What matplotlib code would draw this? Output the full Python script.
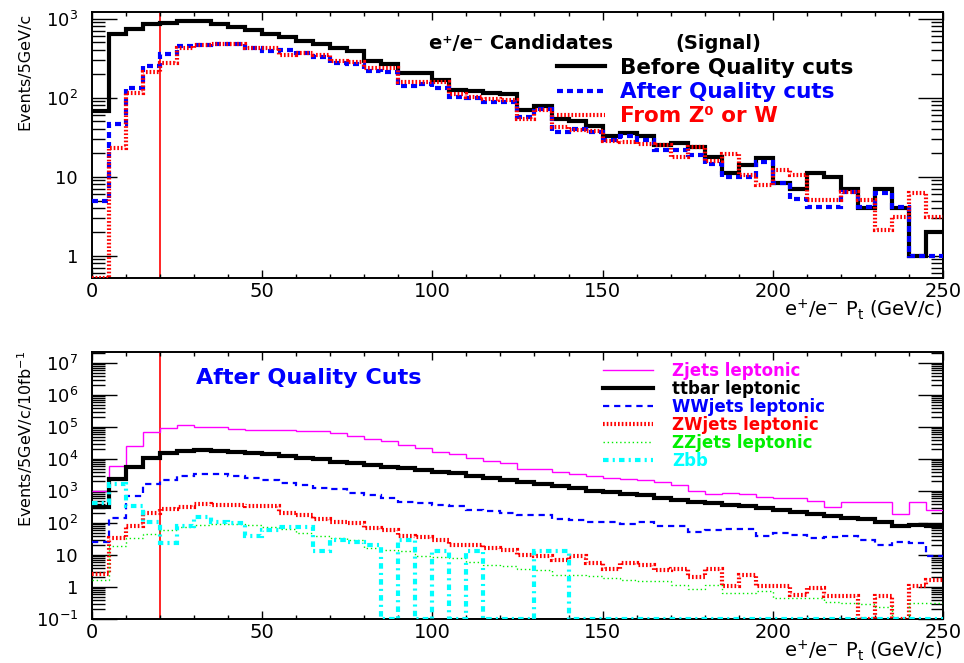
import numpy as np
import matplotlib
matplotlib.use('Agg')
import matplotlib.pyplot as plt
from matplotlib.lines import Line2D
from matplotlib.ticker import FixedLocator, LogLocator, MultipleLocator, FuncFormatter, NullFormatter

plt.rcParams['font.family'] = ['DejaVu Sans']
plt.rcParams['lines.scale_dashes'] = False

# ---- data: 5 GeV/c bins from 0 to 250 ----
edges = np.arange(0, 255, 5)

# top panel: signal e+/e- candidates
before_cuts = [68, 632, 731, 845, 885, 930, 930, 860, 782, 710, 632, 585, 521, 473,
               429, 390, 291, 270, 202, 202, 167, 125, 122, 116, 111, 69, 79, 53, 50, 44,
               33, 36, 33, 25, 27, 24, 18, 11.3, 14.2, 17, 8.3, 7.0, 11, 10, 7.0, 4.0,
               7.0, 4.0, 1.0, 2.0]
after_cuts = [5, 46, 132, 253, 354, 451, 464, 473, 482, 429, 390, 398, 370, 330,
              278, 270, 219, 208, 142, 149, 132, 101, 98, 89, 89, 57, 72, 37, 40, 37,
              29, 33, 29, 21.6, 21.6, 18.6, 14.6, 10, 10, 15.3, 8.3, 5.2, 4.2, 4.2, 6.4,
              4.2, 6.2, 4.2, 1, 1]
from_zw = [0, 23, 113, 214, 278, 429, 460, 473, 482, 429, 429, 348, 370, 345,
           291, 285, 240, 240, 156, 156, 156, 111, 101, 95, 92, 54, 69, 42, 38.5, 37.4,
           28, 27.2, 26.1, 25, 17.8, 23.7, 15.8, 19.3, 10.5, 7.8, 12.1, 10.5, 5.1, 5.1,
           6.4, 5.1, 2.13, 3.1, 6.2, 3.1]

# bottom panel: backgrounds after quality cuts (10 fb^-1)
zjets = [1000, 6100, 25700, 71700, 95000, 113000, 102000, 97000, 89000, 81000, 78000,
         78000, 76000, 75000, 63800, 52600, 41500, 36700, 27500, 22700, 17000, 14100,
         10600, 8700, 7400, 4800, 4800, 4050, 3430, 3030, 2630, 2400, 2230, 1840, 1550,
         965, 795, 890, 795, 671, 597, 597, 500, 313, 436, 468, 436, 189, 436, 258]
ttbar = [310, 2400, 5500, 10800, 15100, 17900, 19200, 18300, 17000, 15100, 14100, 12500,
         11000, 9800, 8300, 7400, 6530, 5800, 5130, 4550, 4050, 3600, 3030, 2630, 2230,
         1880, 1660, 1380, 1220, 1030, 910, 800, 760, 597, 527, 468, 415, 369, 327, 291,
         258, 219, 194, 168, 148, 132, 111, 78, 87, 78]
wwjets = [26, 142, 700, 1650, 2200, 2900, 3500, 3430, 3030, 2510, 2230, 1760, 1500, 1220,
          1140, 850, 760, 597, 468, 415, 369, 327, 258, 229, 212, 180, 180, 135, 126, 111,
          106, 95, 104, 81, 78, 52, 61, 64, 64, 38, 48, 43, 34, 36, 38, 30, 21, 26, 23, 9]
zwjets = [2.5, 34, 78, 203, 271, 310, 380, 369, 369, 344, 327, 212, 180, 135, 104, 99,
          69, 61, 40, 36, 30, 21, 21, 16.4, 14.6, 10.2, 9.0, 7.1, 9.5, 5.6, 3.6, 5.6, 5.0,
          3.5, 3.6, 2.1, 3.6, 1.04, 2.4, 1.04, 1.04, 0.58, 0.93, 0.51, 0.51, 0, 0.51, 0,
          1.04, 1.7]
zzjets = [1.6, 19, 33, 45, 62, 76, 85, 92, 92, 87, 74, 66, 47, 38, 34, 30, 16.4, 13.8,
          12.9, 9.5, 8.6, 8.0, 5.9, 5.0, 4.6, 3.6, 3.5, 2.4, 2.4, 2.2, 1.9, 1.6, 1.5, 1.5,
          1.17, 0.86, 1.17, 0.65, 0.65, 0.73, 0.45, 0.45, 0.45, 0.33, 0.32, 0.30, 0.24, 0,
          0.32, 0.32]
zbb = [420, 1700, 340, 110, 23, 83, 150, 110, 100, 38, 61, 74, 74, 13, 30, 25, 20, 0,
       30, 0, 13, 0, 13, 0, 0, 0, 13, 13, 0, 0, 0, 0, 0, 0, 0, 0, 0, 0, 0, 0, 0, 0, 0, 0,
       0, 0, 0, 0, 0, 0]

pt_cut = 20

top_series = [
    (before_cuts, 'Before Quality cuts', '#000000', 3.0, '-'),
    (after_cuts, 'After Quality cuts', '#0000ff', 3.0, (0, (4.3, 2.9))),
    (from_zw, 'From Z\u2070 or W', '#ff0000', 3.0, (0, (1.2, 1.4))),
]
bottom_series = [
    (zjets, 'Zjets leptonic', '#ff00ff', 1.0, '-'),
    (ttbar, 'ttbar leptonic', '#000000', 3.0, '-'),
    (wwjets, 'WWjets leptonic', '#0000ff', 1.6, (0, (4.5, 3.5))),
    (zwjets, 'ZWjets leptonic', '#ff0000', 3.0, (0, (1.2, 1.5))),
    (zzjets, 'ZZjets leptonic', '#00ee00', 1.0, (0, (1.0, 2.0))),
    (zbb, 'Zbb', '#00ffff', 3.0, (0, (4, 3, 1.5, 3))),
]


def log_label(v, pos):
    n = int(round(np.log10(v)))
    if n == 0:
        return '1'
    if n == 1:
        return '10'
    return '$10^{%d}$' % n


def style_axes(ax, ylim, majors):
    ax.set_yscale('log')
    ax.set_xlim(0, 250)
    ax.set_ylim(*ylim)
    ax.yaxis.set_major_locator(FixedLocator(majors))
    ax.yaxis.set_major_formatter(FuncFormatter(log_label))
    ax.yaxis.set_minor_locator(LogLocator(base=10, subs=np.arange(2, 10), numticks=30))
    ax.yaxis.set_minor_formatter(NullFormatter())
    ax.xaxis.set_major_locator(MultipleLocator(50))
    ax.xaxis.set_minor_locator(MultipleLocator(10))
    ax.tick_params(which='both', direction='in', top=True, right=True, width=1.0)
    ax.tick_params(axis='y', which='major', length=18, labelsize=13, pad=10)
    ax.tick_params(axis='y', which='minor', length=9)
    ax.tick_params(axis='x', which='major', length=6, labelsize=14, pad=3)
    ax.tick_params(axis='x', which='minor', length=3)
    for sp in ax.spines.values():
        sp.set_linewidth(1.4)
    ax.axvline(pt_cut, color='#ff0000', lw=1.2, zorder=1)
    ax.set_xlabel(r'e$^{+}$/e$^{-}$ P$_{\mathrm{t}}$ (GeV/c)', fontsize=14,
                  loc='right', labelpad=-2.5)


def draw(ax, series):
    floor = ax.get_ylim()[0]
    handles = []
    for vals, label, color, lw, ls in series:
        v = np.asarray(vals, dtype=float)
        v = np.where(v > 0, v, floor)
        ax.stairs(v, edges, baseline=None, color=color, lw=lw, linestyle=ls, zorder=3)
        handles.append(Line2D([], [], color=color, lw=lw, linestyle=ls))
    return handles


fig = plt.figure(figsize=(9.64, 6.63), dpi=100)

# ---- top panel ----
ax1 = fig.add_axes([0.0954, 0.5807, 0.8828, 0.4012])
style_axes(ax1, (0.524, 1210), [1, 10, 100, 1000])
h1 = draw(ax1, top_series)
ax1.set_ylabel('Events/5GeV/c', fontsize=11.5, loc='top')
ax1.yaxis.set_label_coords(-0.07, 0.996)
leg1 = ax1.legend(h1, [s[1] for s in top_series], loc='upper left',
                  bbox_to_anchor=(0.546, 0.828), frameon=False, borderpad=0,
                  borderaxespad=0, handlelength=2.23, handletextpad=0.7,
                  labelspacing=0.2, prop={'weight': 'bold', 'size': 15.5})
for t, s in zip(leg1.get_texts(), top_series):
    t.set_color(s[2])
ax1.text(0.396, 0.88, 'e\u207a/e\u207b Candidates', transform=ax1.transAxes,
         fontsize=14, fontweight='bold', va='center', ha='left')
ax1.text(0.685, 0.88, '(Signal)', transform=ax1.transAxes,
         fontsize=14, fontweight='bold', va='center', ha='left')

# ---- bottom panel ----
ax2 = fig.add_axes([0.0954, 0.0664, 0.8828, 0.4027])
style_axes(ax2, (0.1, 2.2e7), [10.0 ** k for k in range(-1, 8)])
h2 = draw(ax2, bottom_series)
ax2.set_ylabel('Events/5GeV/c/10fb$^{-1}$', fontsize=11.5, loc='top')
ax2.yaxis.set_label_coords(-0.067, 1.005)
leg2 = ax2.legend(h2, [s[1] for s in bottom_series], loc='upper left',
                  bbox_to_anchor=(0.6005, 0.963), frameon=False, borderpad=0,
                  borderaxespad=0, handlelength=3.0, handletextpad=1.15,
                  labelspacing=0.0, prop={'weight': 'bold', 'size': 12})
for t, s in zip(leg2.get_texts(), bottom_series):
    t.set_color(s[2])
ax2.text(0.122, 0.903, 'After Quality Cuts', transform=ax2.transAxes,
         fontsize=16, fontweight='bold', color='#0000ff', va='center', ha='left')

fig.savefig('out.png', dpi=100)
